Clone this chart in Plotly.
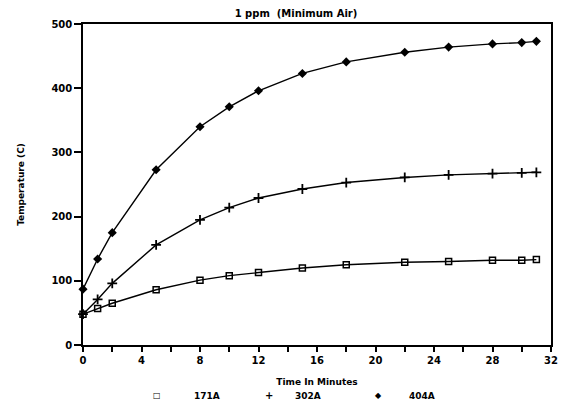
import plotly.graph_objects as go

minutes = [0, 1, 2, 5, 8, 10, 12, 15, 18, 22, 25, 28, 30, 31]
t171A = [48, 57, 65, 86, 101, 108, 113, 120, 125, 129, 130, 132, 132, 133]
t302A = [48, 71, 96, 156, 195, 214, 229, 243, 253, 261, 265, 267, 268, 269]
t404A = [87, 134, 175, 273, 340, 371, 396, 423, 441, 456, 464, 469, 471, 473]
series_names = ["171A", "302A", "404A"]
legend_glyphs = ["\u25a1", "+", "\u25c6"]

markers = [
    dict(symbol="square-open", size=6, line=dict(width=1.5, color="black")),
    dict(symbol="cross-thin-open", size=7, line=dict(width=1.8, color="black")),
    dict(symbol="diamond", size=7),
]

FONT = "DejaVu Sans, Verdana, sans-serif"
# page body has an 8px margin; figure is sized to fill the rest of the window
W, H = 559, 395
L, R, T, B = 75, 16, 16, 58
PW, PH = W - L - R, H - T - B


def tf(size):
    return dict(family=FONT, size=size, color="black", weight="bold")


fig = go.Figure()
for name, vals, mk in zip(series_names, [t171A, t302A, t404A], markers):
    fig.add_trace(go.Scatter(x=minutes, y=vals, mode="lines+markers", name=name,
                             line=dict(color="black", width=1.4), marker=dict(mk, color="black"),
                             showlegend=False, cliponaxis=False))

# legend drawn as annotations beneath the x-axis title (page px positions minus body margin)
leg_mark_x = [149, 261, 370]
leg_text_x = [184, 285, 399]
leg_y = -51 / PH
for glyph, name, mx, txx in zip(legend_glyphs, series_names, leg_mark_x, leg_text_x):
    fig.add_annotation(text=glyph, xref="paper", yref="paper", x=(mx - L) / PW, y=leg_y,
                       xanchor="center", yanchor="middle", showarrow=False,
                       font=tf(8 if glyph != "+" else 10))
    fig.add_annotation(text=name, xref="paper", yref="paper", x=(txx - L) / PW, y=leg_y,
                       xanchor="left", yanchor="middle", showarrow=False, font=tf(9))

fig.update_layout(
    template="none",
    width=W, height=H,
    margin=dict(l=L, r=R, t=T, b=B, pad=0),
    paper_bgcolor="white", plot_bgcolor="white",
    font=tf(10),
    showlegend=False,
    title=dict(text="1 ppm  (Minimum Air)", x=288 / W, xanchor="center", y=1 - 5 / H, yanchor="middle",
               font=tf(10)),
    xaxis=dict(range=[0, 32], tickvals=[0, 4, 8, 12, 16, 20, 24, 28, 32], ticks="outside",
               ticklen=5, tickwidth=1.5, tickcolor="black", showline=True, linecolor="black",
               linewidth=1.5, mirror=True, showgrid=False, zeroline=False,
               minor=dict(tickvals=list(range(0, 33, 2)), ticks="outside", ticklen=5, tickwidth=1.5,
                          tickcolor="black", showgrid=False),
               tickfont=tf(10),
               title=dict(text="Time In Minutes", font=tf(9), standoff=14)),
    yaxis=dict(range=[0, 500], tickvals=[0, 100, 200, 300, 400, 500], ticks="outside",
               ticklen=7, tickwidth=1.5, tickcolor="black", showline=True, linecolor="black",
               linewidth=1.5, mirror=True, showgrid=False, zeroline=False,
               tickfont=tf(10),
               title=dict(text="Temperature (C)", font=tf(9), standoff=25)),
)

fig.write_html("out.html")
